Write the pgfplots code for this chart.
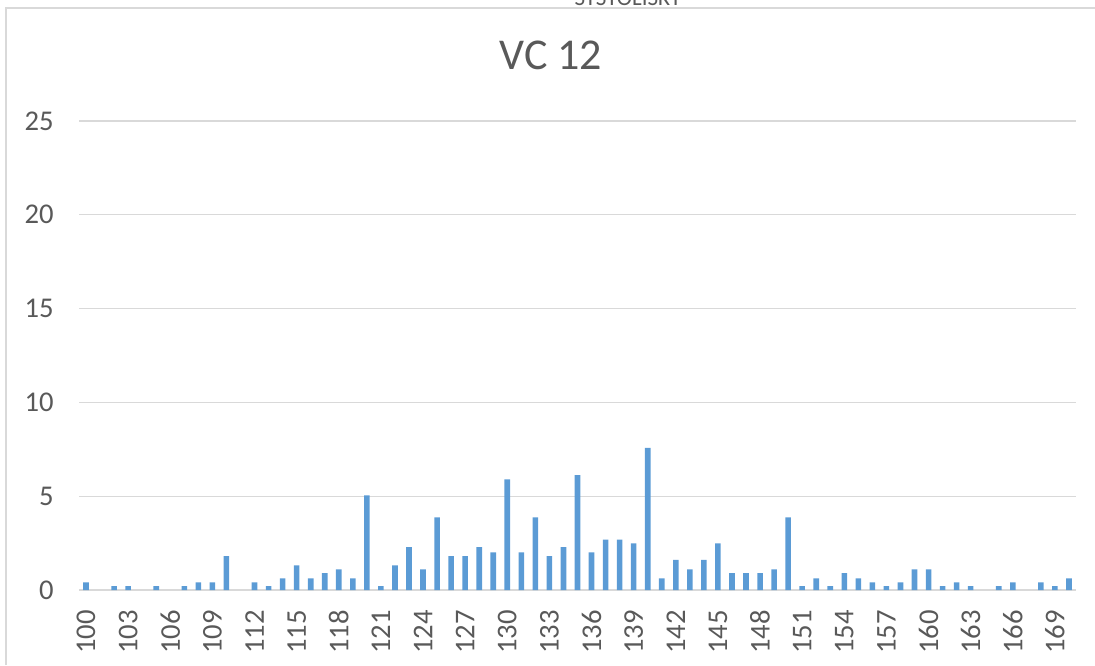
\documentclass[border=0pt]{standalone}
\usepackage{pgfplots}
\pgfplotsset{compat=1.18}
\usepackage{fontspec}
\setmainfont{Carlito}
\definecolor{barblue}{HTML}{5B9BD5}
\definecolor{txtgray}{HTML}{595959}
\definecolor{gridgray}{HTML}{D9D9D9}
\begin{document}
\begin{tikzpicture}
\useasboundingbox (0,0) rectangle (547.5pt,332.5pt);
\draw[gridgray, line width=0.8pt] (3pt,0) -- (3pt,328.5pt) -- (547.5pt,328.5pt);
\node[anchor=base, text=txtgray, font=\fontsize{11.5}{13}\selectfont, inner sep=0pt] at (314pt,329.5pt) {SYSTOLISKT};
\node[text=txtgray, font=\fontsize{22}{26}\selectfont, inner sep=0pt] at (275.5pt,305pt) {VC 12};
\begin{axis}[
  at={(39.5pt,37.5pt)}, anchor=south west,
  scale only axis, width=498.5pt, height=234.5pt,
  xmin=99.5, xmax=170.5, ymin=0, ymax=25,
  ybar, bar width=2.8pt,
  axis lines=left,
  axis line style={draw=none, -},
  xtick={100,103,...,169}, ytick={0,5,...,25},
  ymajorgrids, grid style={gridgray, line width=0.6pt},
  major tick length=0pt,
  /pgf/number format/assume math mode=true,
  xticklabel style={yshift=-10pt, rotate=90, anchor=east, inner sep=0pt, text=txtgray, font=\fontsize{14.3}{17}\selectfont},
  yticklabel style={xshift=-12.5pt, anchor=east, inner sep=0pt, text=txtgray, font=\fontsize{14.3}{17}\selectfont},
  extra y ticks={0}, extra y tick labels={}, extra y tick style={grid style={gridgray, line width=0.8pt}},
  clip=false,
]
\addplot[fill=barblue, draw=none] coordinates {
(100,0.41) (102,0.21) (103,0.21) (105,0.21) (107,0.21) (108,0.41) (109,0.41)
(110,1.81) (112,0.41) (113,0.21) (114,0.62) (115,1.31) (116,0.62) (117,0.9)
(118,1.1) (119,0.62) (120,5.04) (121,0.21) (122,1.31) (123,2.29) (124,1.1)
(125,3.87) (126,1.81) (127,1.81) (128,2.29) (129,2.0) (130,5.9) (131,2.0)
(132,3.87) (133,1.81) (134,2.29) (135,6.12) (136,2.0) (137,2.68) (138,2.68)
(139,2.48) (140,7.57) (141,0.62) (142,1.6) (143,1.1) (144,1.6) (145,2.48)
(146,0.9) (147,0.9) (148,0.9) (149,1.1) (150,3.87) (151,0.21) (152,0.62)
(153,0.21) (154,0.9) (155,0.62) (156,0.41) (157,0.21) (158,0.41) (159,1.1)
(160,1.1) (161,0.21) (162,0.41) (163,0.21) (165,0.21) (166,0.41) (168,0.41)
(169,0.21) (170,0.62)
};
\end{axis}
\end{tikzpicture}
\end{document}
